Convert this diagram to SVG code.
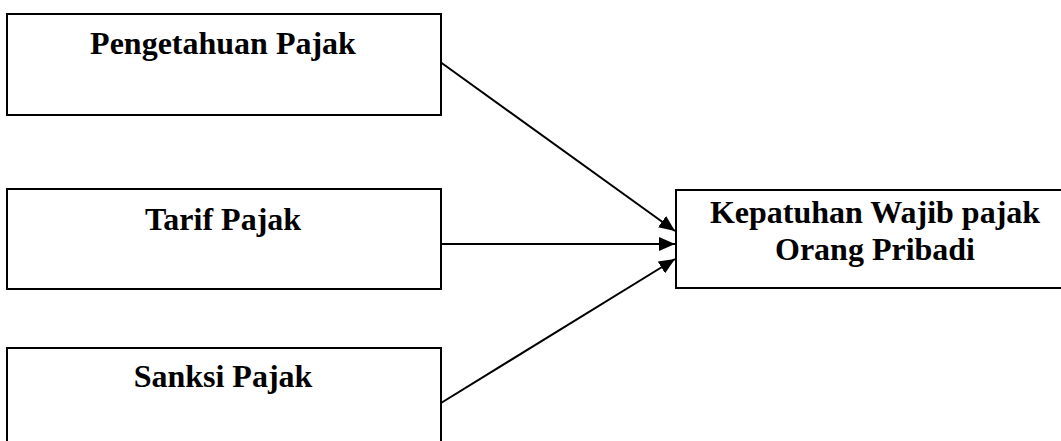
<svg xmlns="http://www.w3.org/2000/svg" width="1061" height="441" viewBox="0 0 1061 441">
<style>
.box{fill:#fff;stroke:#000;stroke-width:2}
.lbl{font-family:"Liberation Serif","Times New Roman",serif;font-weight:bold;font-size:32px;fill:#000;text-anchor:middle}
.edge{stroke:#000;stroke-width:2;fill:none}
</style>
<defs>
<marker id="ah" viewBox="0 0 16 14" refX="16" refY="7" markerWidth="16" markerHeight="14" markerUnits="userSpaceOnUse" orient="auto">
<path d="M0,0 L16,7 L0,14 Z" fill="#000"/>
</marker>
</defs>
<rect width="1061" height="441" fill="#fff"/>
<g id="n1"><rect class="box" x="7" y="14" width="434" height="101"/><text class="lbl" x="223" y="54">Pengetahuan Pajak</text></g>
<g id="n2"><rect class="box" x="7" y="189" width="434" height="100"/><text class="lbl" x="223" y="230">Tarif Pajak</text></g>
<g id="n3"><rect class="box" x="7" y="348" width="434" height="101"/><text class="lbl" x="223" y="387">Sanksi Pajak</text></g>
<g id="n4"><rect class="box" x="676" y="190" width="400" height="98"/><text class="lbl" x="875" y="223">Kepatuhan Wajib pajak</text><text class="lbl" x="875" y="260">Orang Pribadi</text></g>
<g id="edges">
<line class="edge" x1="441" y1="62.5" x2="675" y2="231" marker-end="url(#ah)"/>
<line class="edge" x1="441" y1="244" x2="675" y2="244" marker-end="url(#ah)"/>
<line class="edge" x1="441" y1="403" x2="675" y2="259" marker-end="url(#ah)"/>
</g>
</svg>
